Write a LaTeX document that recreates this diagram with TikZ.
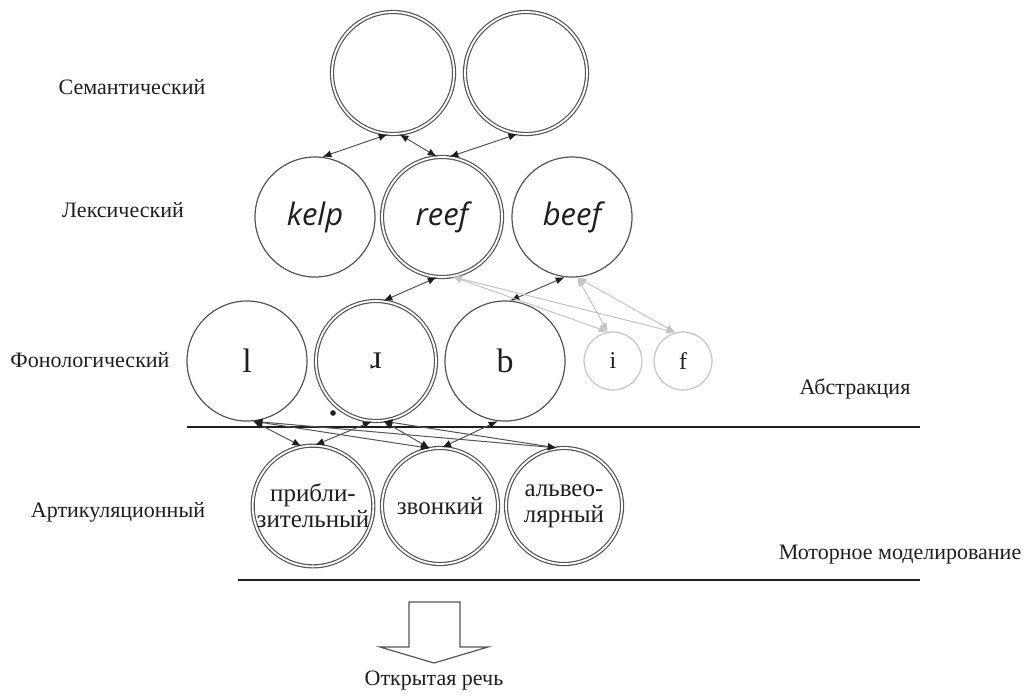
\documentclass[tikz,border=0pt]{standalone}
\usepackage{fontspec}
\setmainfont{Liberation Serif}
\newfontfamily\wordfont{Open Sans}
\usetikzlibrary{arrows.meta, positioning}
\definecolor{LineGray}{HTML}{555555}
\definecolor{FaintGray}{HTML}{C4C4C4}
\definecolor{InkBlack}{HTML}{1E1E1E}
\tikzset{
  unit/.style={circle, draw=LineGray, line width=0.6pt, inner sep=0pt, text=InkBlack},
  active/.style={unit, double, double distance=0.9pt},
  faint/.style={unit, draw=FaintGray, minimum size=29pt, font=\fontsize{12}{14}\selectfont},
  link/.style={{Latex[length=4.5pt,width=3.6pt,color=InkBlack]}-{Latex[length=4.5pt,width=3.6pt,color=InkBlack]}, draw=LineGray, line width=0.5pt},
  fadedlink/.style={{Latex[length=4.5pt,width=3.6pt]}-{Latex[length=4.5pt,width=3.6pt]}, draw=FaintGray, line width=0.5pt},
  layer/.style={font=\fontsize{11}{13}\selectfont, text=InkBlack},
  word/.style={font=\wordfont\itshape\fontsize{15.5}{18}\selectfont},
  phone/.style={font=\fontsize{17}{20}\selectfont},
  feature/.style={align=center, font=\fontsize{12.5}{13}\selectfont},
  rule/.style={draw=InkBlack, line width=1.3pt},
}
\begin{document}
\begin{tikzpicture}[x=0.5pt, y=-0.5pt]
    \useasboundingbox (0,0) rectangle (1031,697);

    % Layer names
    \node[layer] (semlbl) at (132,87) {Семантический};
    \node[layer] (lexlbl) at (123,210) {Лексический};
    \node[layer] (phonlbl) at (90,360) {Фонологический};
    \node[layer] (artlbl) at (118,512) {Артикуляционный};
    \node[layer] (abslbl) at (855,389) {Абстракция};
    \node[layer] (motlbl) at (900,555) {Моторное моделирование};

    % Semantic units
    \node[active, minimum size=61pt] (sem1) at (393,73) {};
    \node[active, minimum size=61pt] (sem2) at (526,73) {};

    % Lexical units
    \node[unit, word, minimum size=60pt] (kelp) at (315,217) {kelp};
    \node[active, word, minimum size=60pt] (reef) at (442,217) {reef};
    \node[unit, word, minimum size=60pt] (beef) at (572,217) {beef};

    % Phonological units
    \node[unit, phone, minimum size=60pt] (phl) at (247,361) {l};
    \node[active, phone, minimum size=60pt] (phr) at (376,361) {ɹ};
    \node[unit, phone, minimum size=60pt] (phb) at (505,361) {b};
    \node[faint] (phi) at (613,361) {i};
    \node[faint] (phf) at (683,361) {f};

    % Articulatory units
    \node[active, feature, minimum size=58pt] (approx) at (313,506) {прибли-\\зительный};
    \node[active, feature, minimum size=58pt] (voiced) at (440,506) {звонкий};
    \node[active, feature, minimum size=58pt] (alveo) at (564,506) {альвео-\\лярный};

    % Level boundaries
    \draw[rule] (187,427) -- (920,427);
    \draw[rule] (238,580) -- (920,580);
    \fill[InkBlack] (333,413) circle (1.4pt);

    % Semantic <-> lexical
    \draw[link] (sem1.265) -- (kelp.83);
    \draw[link] (sem1.276) -- (reef.95);
    \draw[link] (sem2.262) -- (reef.83);

    % Lexical <-> phonological
    \draw[link] (reef.265) -- (phr.83);
    \draw[link] (beef.263) -- (phb.85);
    \draw[fadedlink] (reef.280) -- (phi.100);
    \draw[fadedlink] (reef.280) -- (phf.105);
    \draw[fadedlink] (beef.275) -- (phi.100);
    \draw[fadedlink] (beef.275) -- (phf.105);

    % Phonological <-> articulatory
    \draw[link] (phl.276) -- (approx.101);
    \draw[link] (phl.276) -- (voiced.100);
    \draw[link] (phl.276) -- (alveo.97);
    \draw[link] (phr.266) -- (approx.88);
    \draw[link] (phr.277) -- (voiced.100);
    \draw[link] (phr.277) -- (alveo.97);
    \draw[link] (phb.263) -- (voiced.88);

    % Output
    \draw[LineGray, line width=0.6pt] (409,602) -- (460,602) -- (460,647) -- (488,647)
        -- (434,663) -- (380,647) -- (409,647) -- cycle;
    \node[layer] (speech) at (434,681) {Открытая речь};
\end{tikzpicture}
\end{document}
